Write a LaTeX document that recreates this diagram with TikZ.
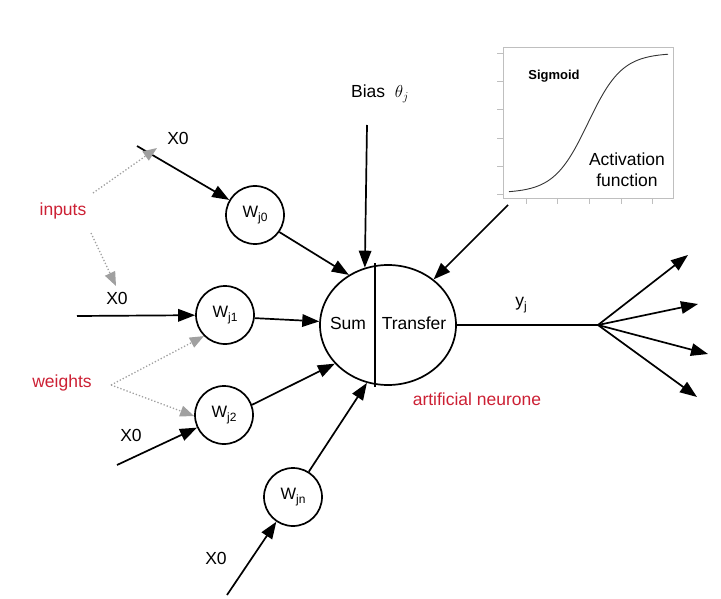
\documentclass[tikz,border=0pt]{standalone}
\usepackage{fontspec}
\setmainfont{Liberation Sans}
\usetikzlibrary{arrows.meta,shapes.geometric}
\definecolor{lblred}{RGB}{204,32,52}
\definecolor{dotgray}{RGB}{160,160,160}
\newcommand{\wsub}[1]{W\raisebox{-3.5pt}{\fontsize{12}{12}\selectfont #1}}
\begin{document}
\begin{tikzpicture}[x=1pt,y=-1pt,
  every node/.style={font=\fontsize{17.5}{20}\selectfont, inner sep=0pt},
  wcirc/.style={draw, circle, line width=1.7pt, minimum size=58pt, font=\fontsize{16.5}{18}\selectfont},
  conn/.style={line width=1.7pt, -{Triangle[length=17pt,width=12.5pt]}},
  hint/.style={dotgray, dotted, line width=1.3pt, -{Triangle[length=14pt,width=11pt]}},
  lbl/.style={text=lblred},
  gridline/.style={draw=black!25, line width=0.7pt}]
\useasboundingbox (0,0) rectangle (721,599);

% activation function plot
\draw[gridline] (503,47) rectangle (673,198);
\foreach \yy in {53,81,109,138,166,194} \draw[gridline] (497,\yy) -- (503,\yy);
\foreach \xx in {526,557,589,621,652} \draw[gridline] (\xx,198) -- (\xx,204);
\draw[line width=0.9pt, black!80] plot[domain=509:668, samples=90, smooth] (\x, {193-140/(1+exp(-(\x-588)/17))});
\node[font=\bfseries\fontsize{13}{14}\selectfont] (sig) at (554,76) {Sigmoid};
\node (act1) at (627,159) {Activation};
\node (act2) at (627,180) {function};

% neuron
\node[draw, ellipse, line width=1.7pt, minimum width=136pt, minimum height=120pt] (neuron) at (388,325) {};
\coordinate (divtop) at (375,263);
\coordinate (divbot) at (375,387);
\draw[line width=1.7pt] (divtop) -- (divbot);
\node (sum) at (348,323) {Sum};
\node (transfer) at (414,323) {Transfer};
\node[lbl] (artn) at (477,399) {artificial neurone};

% weight nodes
\node[wcirc] (wj0) at (255,215) {\wsub{j0}};
\node[wcirc] (wj1) at (225,315) {\wsub{j1}};
\node[wcirc] (wj2) at (224,415) {\wsub{j2}};
\node[wcirc] (wjn) at (293,497) {\wsub{jn}};

% inputs
\coordinate (in0) at (137,146);
\coordinate (in1) at (77,316);
\coordinate (in2) at (117,465);
\coordinate (inn) at (227,595);
\node (x0a) at (178,138) {X0};
\node (x0b) at (117,298) {X0};
\node (x0c) at (131,435) {X0};
\node (x0d) at (216,558) {X0};
\draw[conn] (in0) -- (wj0);
\draw[conn] (in1) -- (wj1);
\draw[conn] (in2) -- (wj2);
\draw[conn] (inn) -- (wjn);

% weights to neuron
\draw[conn] (wj0.-35) -- (neuron.128);
\draw[conn] (wj1.-6) -- (neuron.177);
\draw[conn] (wj2.20) -- (neuron.216);
\draw[conn] (wjn.58) -- (neuron.250);

% bias
\node (bias) at (380,94) {Bias~~$\theta_j$};
\coordinate (biastop) at (367,125);
\draw[conn] (biastop) -- (neuron.112);

% activation arrow
\coordinate (actstart) at (508,205);
\draw[conn] (actstart) -- (neuron.45);

% output
\coordinate (junc) at (598,325);
\draw[line width=1.7pt] (neuron.east) -- (junc);
\node (yj) at (521,305) {y\raisebox{-3.5pt}{\fontsize{12}{12}\selectfont j}};
\coordinate (o1) at (688,255);
\coordinate (o2) at (698,304);
\coordinate (o3) at (708,354);
\coordinate (o4) at (697,397);
\foreach \o in {o1,o2,o3,o4} \draw[conn] (junc) -- (\o);

% annotations
\node[lbl] (inputs) at (63,211) {inputs};
\coordinate (ins1) at (93,193);
\coordinate (ine1) at (157,148);
\coordinate (ins2) at (91,233);
\coordinate (ine2) at (116,286);
\draw[hint] (ins1) -- (ine1);
\draw[hint] (ins2) -- (ine2);
\node[lbl] (weights) at (62,383) {weights};
\coordinate (ws) at (111,385);
\draw[hint] (ws) -- (wj1.225);
\draw[hint] (ws) -- (wj2.182);
\end{tikzpicture}
\end{document}
